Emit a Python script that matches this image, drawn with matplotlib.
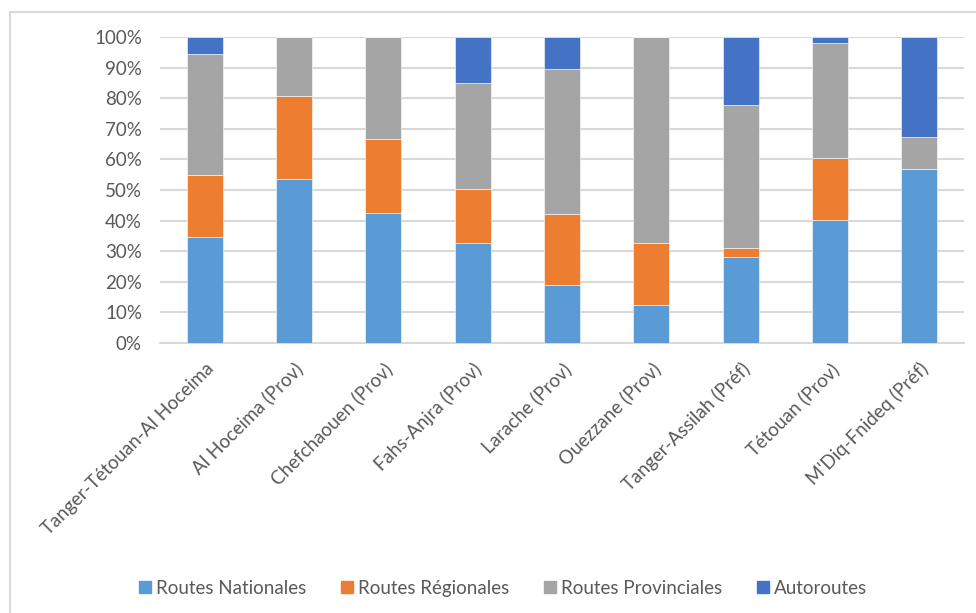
import numpy as np
import matplotlib.pyplot as plt
from matplotlib.patches import Rectangle
from matplotlib.ticker import PercentFormatter

plt.rcParams['font.family'] = ['Lato', 'DejaVu Sans']

categories = ['Tanger-Tétouan-Al Hoceima', 'Al Hoceima (Prov)', 'Chefchaouen (Prov)',
              'Fahs-Anjra (Prov)', 'Larache (Prov)', 'Ouezzane (Prov)',
              'Tanger-Assilah (Préf)', 'Tétouan (Prov)', "M'Diq-Fnideq (Préf)"]

# share of each road type in the network (%)
nationales = [34.6, 53.5, 42.4, 32.6, 18.8, 12.3, 28.1, 40.1, 57.0]
regionales = [20.3, 27.2, 24.4, 17.6, 23.2, 20.3, 3.0, 20.3, 0.0]
provinciales = [39.4, 19.3, 33.2, 34.8, 47.7, 67.4, 46.7, 37.7, 10.3]
autoroutes = [5.7, 0.0, 0.0, 15.0, 10.3, 0.0, 22.2, 1.9, 32.7]

series = [('Routes Nationales', nationales, '#5B9BD5'),
          ('Routes Régionales', regionales, '#ED7D31'),
          ('Routes Provinciales', provinciales, '#A5A5A5'),
          ('Autoroutes', autoroutes, '#4472C4')]

W, H = 976, 613
fig = plt.figure(figsize=(W/100, H/100), dpi=100)
ax = fig.add_axes([160/W, 270/H, 804/W, 306/H])

x = np.arange(len(categories))
bottom = np.zeros(len(categories))
for name, vals, col in series:
    vals = np.array(vals)
    ax.bar(x, vals, 0.4, bottom=bottom, color=col, label=name,
           edgecolor='white', linewidth=0.4, zorder=3)
    bottom += vals

ax.set_xlim(-0.5, len(categories) - 0.5)
ax.set_ylim(0, 100)
ax.set_yticks(np.arange(0, 101, 10))
ax.yaxis.set_major_formatter(PercentFormatter(decimals=0))
ax.grid(axis='y', color='#D9D9D9', linewidth=1.5, zorder=0)
for s in ['top', 'right', 'left']:
    ax.spines[s].set_visible(False)
ax.spines['bottom'].set_color('#D9D9D9')
ax.spines['bottom'].set_linewidth(1.5)
ax.tick_params(axis='both', length=0, colors='#595959', labelsize=13.5)
ax.tick_params(axis='y', pad=13)
ax.set_xticks(x)
ax.set_xticklabels(categories, rotation=45, ha='right', rotation_mode='anchor')
ax.tick_params(axis='x', pad=12)

# legend row along the bottom, laid out by hand so all labels share one baseline
renderer = fig.canvas.get_renderer()
box, gap, pad = 12, 35, 5
texts, total = [], 0
for name, _, col in series:
    t = fig.text(0, 0, name, fontsize=13.5, color='#595959', va='center_baseline')
    w = t.get_window_extent(renderer).width
    texts.append((t, w, col))
    total += box + pad + w
total += gap * (len(series) - 1)
xpos = 503 - total / 2
ymid = 587
for t, w, col in texts:
    fig.patches.append(Rectangle((xpos/W, (H - ymid - box/2)/H), box/W, box/H,
                                 transform=fig.transFigure, color=col))
    t.set_position(((xpos + box + pad)/W, (H - ymid)/H))
    xpos += box + pad + w + gap

# chart area border
fig.patches.append(Rectangle((9.5/W, -0.1), 1.2, 1.1 - 12.5/H, transform=fig.transFigure,
                             fill=False, edgecolor='#D9D9D9', linewidth=1.5))

fig.savefig('out.png', dpi=100)
